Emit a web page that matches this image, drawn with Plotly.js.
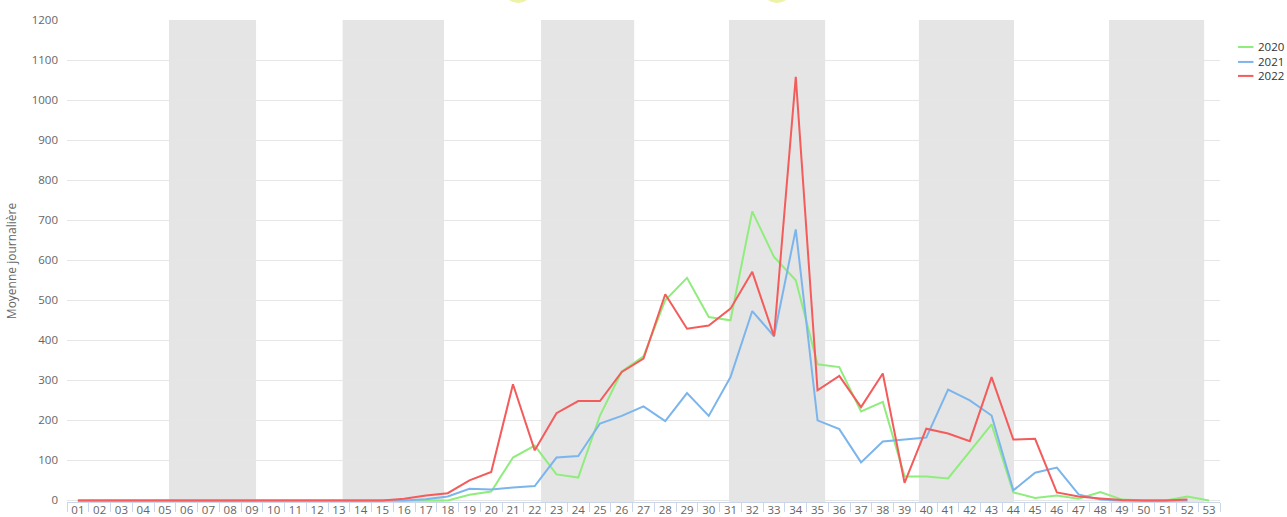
<!DOCTYPE html>
<html>
<head>
<meta charset="utf-8">
<script src="https://cdn.plot.ly/plotly-3.0.1.min.js"></script>
<style>
  html, body { margin: 0; padding: 0; background: #ffffff; }
  #chart { width: 1287px; height: 517px; }
</style>
</head>
<body>
<div id="chart"></div>
<script>
// ---- Data ----
var weeks = ['01','02','03','04','05','06','07','08','09','10','11','12','13','14','15','16','17','18','19','20',
             '21','22','23','24','25','26','27','28','29','30','31','32','33','34','35','36','37','38','39','40',
             '41','42','43','44','45','46','47','48','49','50','51','52','53'];

var seriesNames = ['2020', '2021', '2022'];

var values2020 = [0,0,0,0,0,0,0,0,0,0,0,0,0,0,0,0,0,0,14,22,
                  107,137,65,57,212,322,360,500,556,458,450,722,608,550,340,333,222,246,60,60,
                  55,122,190,20,6,12,4,21,2,0,0,10,0];

var values2021 = [0,0,0,0,0,0,0,0,0,0,0,0,0,0,0,0,3,10,29,27,
                  32,36,107,111,192,211,235,198,268,211,308,473,410,677,200,178,95,147,152,157,
                  277,250,212,25,69,82,15,2,0,0,0,0,null];

var values2022 = [0,0,0,0,0,0,0,0,0,0,0,0,0,0,0,4,12,18,50,71,
                  290,125,218,248,248,321,354,515,429,437,479,571,410,1058,275,311,233,317,44,179,
                  167,148,308,152,154,20,10,5,1,0,0,2,null];

// shaded alternate months (in week-category index units)
var monthBandStarts = [4.19, 12.17, 21.29, 29.93, 38.66, 47.40];
var monthBandEnds   = [8.19, 16.83, 25.57, 34.35, 43.03, 51.77];

var yTitle = 'Moyenne journalière';

// ---- Styles ----
var colors = ['#90ed7d', '#7cb5ec', '#f45b5b'];
var allValues = [values2020, values2021, values2022];
var fontFamily = '"Open Sans", "DejaVu Sans", sans-serif';

var traces = allValues.map(function (vals, i) {
  return {
    type: 'scatter',
    mode: 'lines',
    x: weeks,
    y: vals,
    name: seriesNames[i],
    line: { color: colors[i], width: 2 },
    connectgaps: false,
    showlegend: false,
    hoverinfo: 'x+y+name'
  };
});

var shapes = monthBandStarts.map(function (s, i) {
  return {
    type: 'rect', xref: 'x', yref: 'paper',
    x0: s, x1: monthBandEnds[i], y0: 0, y1: 1,
    fillcolor: '#e5e5e5', line: { width: 0 }, layer: 'below'
  };
});

// partially visible decorative header (cut off at top)
[[0.3912], [0.6158]].forEach(function (c) {
  shapes.push({
    type: 'circle', xref: 'paper', yref: 'paper',
    x0: c[0] - 0.013, x1: c[0] + 0.013, y0: 1.0353, y1: 1.098,
    fillcolor: '#eef2a6', line: { width: 0 }, layer: 'above'
  });
});

// custom legend
var annotations = [];
var legendY = [0.944, 0.913, 0.884];
seriesNames.forEach(function (n, i) {
  shapes.push({
    type: 'line', xref: 'paper', yref: 'paper',
    x0: 1.0156, x1: 1.0290, y0: legendY[i], y1: legendY[i],
    line: { color: colors[i], width: 2 }
  });
  annotations.push({
    xref: 'paper', yref: 'paper', x: 1.0312, y: legendY[i],
    xanchor: 'left', yanchor: 'middle', showarrow: false,
    text: n, font: { family: fontFamily, size: 11.5, color: '#333333' }
  });
});

var layout = {
  width: 1287,
  height: 517,
  margin: { l: 67, r: 67, t: 20, b: 15.4, pad: 0 },
  paper_bgcolor: '#ffffff',
  plot_bgcolor: '#ffffff',
  font: { family: fontFamily, size: 11.5, color: '#666666' },
  showlegend: false,
  xaxis: {
    type: 'category',
    range: [-0.5, 52.5],
    showgrid: false,
    zeroline: false,
    showline: true,
    linecolor: '#ccd6eb',
    linewidth: 1,
    ticks: 'outside',
    tickson: 'boundaries',
    ticklen: 9,
    tickcolor: '#ccd6eb',
    tickangle: 0,
    ticklabelstandoff: -3,
    tickfont: { family: fontFamily, size: 11.5, color: '#666666' },
    fixedrange: true,
    automargin: false
  },
  yaxis: {
    range: [-4, 1200],
    tick0: 0,
    dtick: 100,
    showgrid: true,
    gridcolor: '#e6e6e6',
    gridwidth: 1,
    zeroline: false,
    showline: false,
    ticks: '',
    ticklabelstandoff: 8,
    tickfont: { family: fontFamily, size: 11.5, color: '#666666' },
    title: { text: yTitle, standoff: 12, font: { family: fontFamily, size: 12, color: '#666666' } },
    fixedrange: true,
    automargin: false
  },
  shapes: shapes,
  annotations: annotations
};

Plotly.newPlot('chart', traces, layout, { displayModeBar: false, responsive: false, staticPlot: true });
</script>
</body>
</html>
